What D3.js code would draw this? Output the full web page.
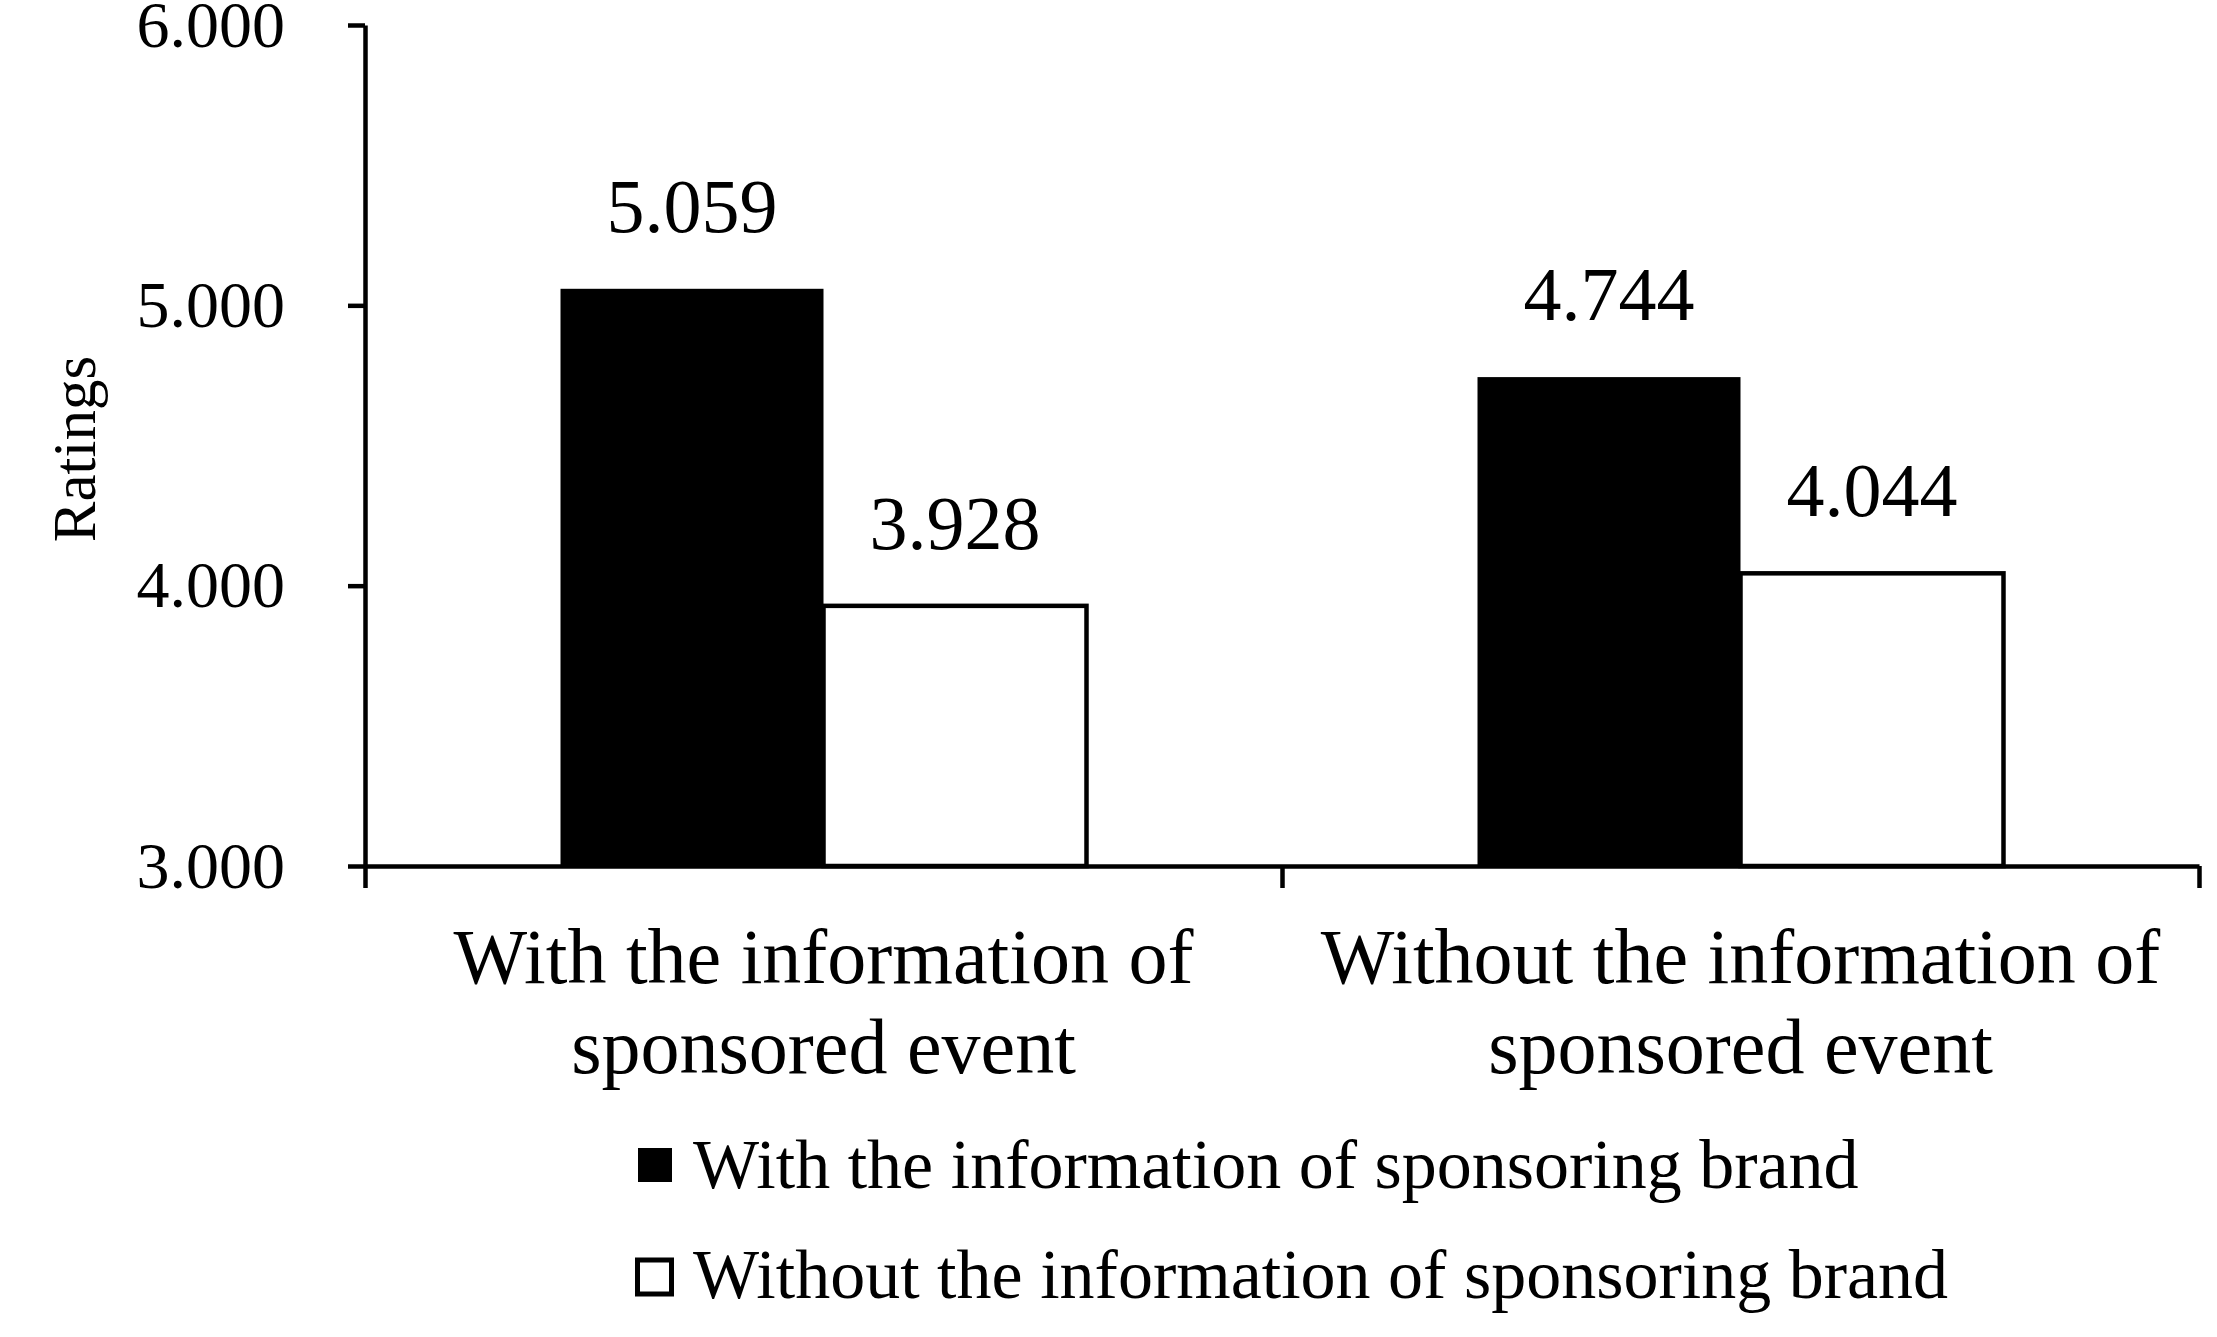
<!DOCTYPE html>
<html>
<head>
<meta charset="utf-8">
<script src="https://cdn.jsdelivr.net/npm/d3@7"></script>
<style>
  body { margin: 0; background: #fff; }
  text { font-family: "Liberation Serif", "Times New Roman", serif; fill: #000; }
</style>
</head>
<body>
<div id="chart"></div>
<script>
// data
var categories = [
    ["With the information of", "sponsored event"],
    ["Without the information of", "sponsored event"]
];
var seriesNames = ["With the information of sponsoring brand", "Without the information of sponsoring brand"];
var withBrand = [5.059, 4.744];
var withoutBrand = [3.928, 4.044];
var yTicks = [3, 4, 5, 6];

var width = 2217;
var height = 1337;
// plot area edges (note: "top" is reserved on window, so use other names)
var plot = { left: 365, right: 2199, top: 25, bottom: 866 };

var svg = d3.select('#chart')
    .append('svg')
    .attr('width', width)
    .attr('height', height);

var rows = categories.map(function (c, i) {
    return { cat: i, values: [withBrand[i], withoutBrand[i]] };
});

var x = d3.scaleBand()
    .domain(d3.range(categories.length))
    .range([plot.left, plot.right])
    .paddingInner(0.4264)
    .paddingOuter(0.2132);

var xs = d3.scaleBand()
    .domain([0, 1])
    .range([0, x.bandwidth()]);

var y = d3.scaleLinear()
    .domain([3, 6])
    .range([plot.bottom, plot.top]);

// bars
var groups = svg.append('g').selectAll('g')
    .data(rows)
    .enter()
    .append('g')
    .attr('transform', d => 'translate(' + x(d.cat) + ',0)');

groups.selectAll('rect')
    .data(d => d.values.map((v, j) => ({ v: v, s: j })))
    .enter()
    .append('rect')
    .attr('x', d => xs(d.s))
    .attr('y', d => y(d.v))
    .attr('width', xs.bandwidth())
    .attr('height', d => y(3) - y(d.v))
    .attr('fill', d => d.s == 0 ? '#000' : '#fff')
    .attr('stroke', '#000')
    .attr('stroke-width', d => d.s == 0 ? 0 : 4.5);

groups.selectAll('text.val')
    .data(d => d.values.map((v, j) => ({ v: v, s: j })))
    .enter()
    .append('text')
    .attr('class', 'val')
    .attr('x', d => xs(d.s) + xs.bandwidth() / 2)
    .attr('y', d => y(d.v) - 57)
    .attr('text-anchor', 'middle')
    .style('font-size', '76px')
    .text(d => d3.format('.3f')(d.v));

// y axis
var yAxis = d3.axisLeft(y)
    .tickValues(yTicks)
    .tickFormat(d3.format('.3f'))
    .tickSizeInner(17)
    .tickSizeOuter(0)
    .tickPadding(63);

var gY = svg.append('g')
    .attr('transform', 'translate(' + plot.left + ',0)')
    .call(yAxis);
gY.select('.domain').attr('stroke-width', 4.5);
gY.selectAll('.tick line').attr('stroke-width', 4.5);
gY.selectAll('.tick text')
    .attr('font-family', null)
    .style('font-size', '66px');

// x axis: ticks between categories
var xb = d3.scaleLinear()
    .domain([0, categories.length])
    .range([plot.left, plot.right]);

var xAxis = d3.axisBottom(xb)
    .tickValues(d3.range(categories.length + 1))
    .tickFormat('')
    .tickSizeInner(22)
    .tickSizeOuter(0);

var gX = svg.append('g')
    .attr('transform', 'translate(0,' + plot.bottom + ')')
    .call(xAxis);
gX.select('.domain').attr('stroke-width', 4.5);
gX.selectAll('.tick line').attr('stroke-width', 4.5);
gX.selectAll('.tick text').remove();

// category labels
var catLabels = svg.append('g').selectAll('text')
    .data(categories)
    .enter()
    .append('text')
    .attr('text-anchor', 'middle')
    .style('font-size', '78px')
    .attr('x', (d, i) => x(i) + x.bandwidth() / 2)
    .attr('y', 983);

catLabels.selectAll('tspan')
    .data(d => d)
    .enter()
    .append('tspan')
    .attr('x', function () { return d3.select(this.parentNode).attr('x'); })
    .attr('dy', (d, i) => i == 0 ? 0 : 90)
    .text(d => d);

// y label
svg.append('text')
    .attr('transform', 'translate(95,449) rotate(-90)')
    .attr('text-anchor', 'middle')
    .style('font-size', '61px')
    .text('Ratings');

// legend
var legend = svg.append('g').selectAll('g')
    .data(seriesNames)
    .enter()
    .append('g')
    .attr('transform', (d, i) => 'translate(638,' + (1148 + i * 110) + ')');

legend.append('rect')
    .attr('x', (d, i) => i == 0 ? 0 : -0.5)
    .attr('y', (d, i) => i == 0 ? 0 : 2)
    .attr('width', 34)
    .attr('height', 34)
    .attr('fill', (d, i) => i == 0 ? '#000' : '#fff')
    .attr('stroke', '#000')
    .attr('stroke-width', (d, i) => i == 0 ? 0 : 5);

legend.append('text')
    .attr('x', 55)
    .attr('y', 40)
    .style('font-size', '70px')
    .text(d => d);
</script>
</body>
</html>
